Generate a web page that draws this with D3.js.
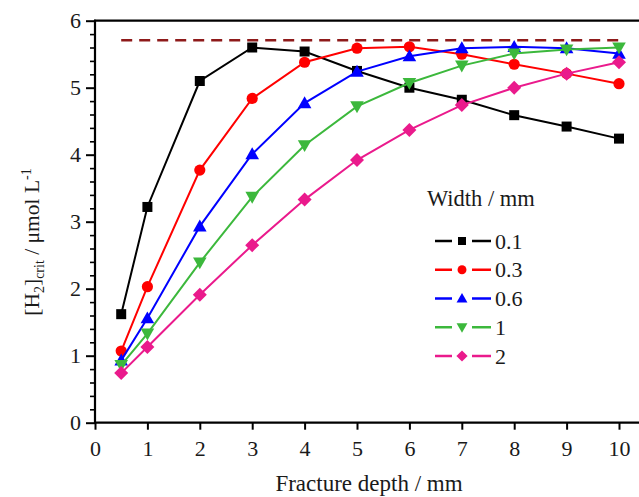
<!DOCTYPE html>
<html><head><meta charset="utf-8">
<script src="https://cdn.jsdelivr.net/npm/d3@7"></script>
<style>body{margin:0;background:#fff}svg{display:block}
svg text{font-family:"Liberation Serif","DejaVu Serif",serif;}</style>
</head><body>
<svg id="c" width="639" height="497"></svg>
<script>
const depths = [0.5, 1, 2, 3, 4, 5, 6, 7, 8, 9, 10];
const w01 = [1.62, 3.22, 5.10, 5.60, 5.54, 5.25, 5.00, 4.82, 4.59, 4.42, 4.24];
const w03 = [1.07, 2.03, 3.77, 4.84, 5.38, 5.59, 5.61, 5.50, 5.35, 5.21, 5.06];
const w06 = [0.93, 1.56, 2.93, 4.01, 4.77, 5.24, 5.47, 5.59, 5.61, 5.59, 5.51];
const w1  = [0.86, 1.33, 2.39, 3.37, 4.14, 4.72, 5.07, 5.33, 5.51, 5.57, 5.60];
const w2  = [0.74, 1.13, 1.91, 2.65, 3.33, 3.92, 4.37, 4.74, 5.00, 5.21, 5.38];
const seriesNames = ["0.1", "0.3", "0.6", "1", "2"];
const seriesValues = [w01, w03, w06, w1, w2];
const seriesColors = ["#000000", "#ff0000", "#0000ff", "#3cb83c", "#ea1a8c"];
const seriesSymbols = ["square", "circle", "triUp", "triDown", "diamond"];
const limitValue = 5.71;
const limitRange = [0.5, 10];
const xTicks = [0,1,2,3,4,5,6,7,8,9,10];
const yTicks = [0,1,2,3,4,5,6];

const svg = d3.select("#c");
const x = d3.scaleLinear().domain([0, 10]).range([95, 619]);
const y = d3.scaleLinear().domain([0, 6]).range([422.7, 20.7]);
const txt = "#1a1a1a";

function sym(g, type, cx, cy, color, s) {
  s = s || 1;
  if (type === "square") {
    g.append("rect").attr("x", cx - 5*s).attr("y", cy - 5*s).attr("width", 10*s).attr("height", 10*s).attr("fill", color);
  } else if (type === "circle") {
    g.append("circle").attr("cx", cx).attr("cy", cy).attr("r", 5.6*s).attr("fill", color);
  } else if (type === "triUp") {
    const a = 6.8*s;
    g.append("path").attr("d", `M${cx},${cy-a}L${cx+a},${cy+a*0.75}L${cx-a},${cy+a*0.75}Z`).attr("fill", color);
  } else if (type === "triDown") {
    const a = 6.8*s;
    g.append("path").attr("d", `M${cx},${cy+a}L${cx+a},${cy-a*0.75}L${cx-a},${cy-a*0.75}Z`).attr("fill", color);
  } else if (type === "diamond") {
    const a = 7*s;
    g.append("path").attr("d", `M${cx},${cy-a}L${cx+a},${cy}L${cx},${cy+a}L${cx-a},${cy}Z`).attr("fill", color);
  }
}

svg.append("line")
  .attr("x1", x(limitRange[0])).attr("x2", x(limitRange[1]))
  .attr("y1", y(limitValue)).attr("y2", y(limitValue))
  .attr("stroke", "#8e1a1a").attr("stroke-width", 2.5)
  .attr("stroke-dasharray", "11,7");

const line = d3.line().x(d => x(d[0])).y(d => y(d[1]));
seriesValues.forEach((vals, i) => {
  const pts = depths.map((d, j) => [d, vals[j]]);
  svg.append("path").attr("d", line(pts)).attr("fill", "none")
    .attr("stroke", seriesColors[i]).attr("stroke-width", 2);
  const g = svg.append("g");
  pts.forEach(p => sym(g, seriesSymbols[i], x(p[0]), y(p[1]), seriesColors[i]));
});

const xAxis = d3.axisBottom(x).tickValues(xTicks).tickSize(7).tickPadding(7).tickFormat(d3.format("d"));
const gx = svg.append("g").attr("transform", `translate(0,${y(0)})`).call(xAxis);
gx.select(".domain").remove();
gx.selectAll(".tick line").attr("stroke-width", 2);
gx.selectAll(".tick text").attr("font-family", null).attr("font-size", 22).attr("dy", "0.9em").attr("fill", txt);
svg.append("line").attr("x1", 94).attr("x2", 645).attr("y1", y(0)).attr("y2", y(0)).attr("stroke", "#000").attr("stroke-width", 2.2);
svg.append("line").attr("x1", 94).attr("x2", 645).attr("y1", y(6)).attr("y2", y(6)).attr("stroke", "#000").attr("stroke-width", 2.2);

const yMinor = d3.range(0, 6.0001, 0.2).filter(v => Math.abs(v - Math.round(v)) > 1e-6);
const gyMinor = svg.append("g").attr("transform", `translate(${x(0)},0)`)
  .call(d3.axisLeft(y).tickValues(yMinor).tickSize(5).tickFormat(""));
gyMinor.select(".domain").remove();
gyMinor.selectAll(".tick line").attr("stroke-width", 1.6);
const gy = svg.append("g").attr("transform", `translate(${x(0)},0)`)
  .call(d3.axisLeft(y).tickValues(yTicks).tickSize(9).tickPadding(5).tickFormat(d3.format("d")));
gy.select(".domain").remove();
gy.selectAll(".tick line").attr("stroke-width", 2);
gy.selectAll(".tick text").attr("font-family", null).attr("font-size", 22).attr("fill", txt);
svg.append("line").attr("x1", x(0)).attr("x2", x(0)).attr("y1", y(0) + 1).attr("y2", y(6) - 1).attr("stroke", "#000").attr("stroke-width", 2.2);

svg.append("text").attr("x", 369).attr("y", 491).attr("text-anchor", "middle")
  .attr("font-size", 23).attr("fill", txt)
  .text("Fracture depth / mm");

const yt = svg.append("text").attr("transform", "translate(39,242) rotate(-90)")
  .attr("text-anchor", "middle").attr("font-size", 21.5).attr("fill", txt);
yt.append("tspan").text("[H");
yt.append("tspan").attr("font-size", 14).attr("dy", 5).text("2");
yt.append("tspan").attr("dy", -5).text("]");
yt.append("tspan").attr("font-size", 14).attr("dy", 5).text("crit");
yt.append("tspan").attr("dy", -5).text(" / μmol L");
yt.append("tspan").attr("font-size", 14).attr("dy", -8).text("-1");

svg.append("text").attr("x", 427).attr("y", 206).attr("font-size", 22.5).attr("fill", txt).text("Width / mm");
const legY = d3.scaleLinear().domain([0, 4]).range([241, 356]);
seriesNames.forEach((n, i) => {
  const cy = legY(i);
  const g = svg.append("g");
  g.append("line").attr("x1", 435).attr("x2", 452).attr("y1", cy).attr("y2", cy).attr("stroke", seriesColors[i]).attr("stroke-width", 2.5);
  g.append("line").attr("x1", 472).attr("x2", 491).attr("y1", cy).attr("y2", cy).attr("stroke", seriesColors[i]).attr("stroke-width", 2.5);
  sym(g, seriesSymbols[i], 462, cy, seriesColors[i], 0.8);
  g.append("text").attr("x", 495).attr("y", cy + 7.5).attr("font-size", 22).attr("fill", txt).text(n);
});
</script>
</body></html>
